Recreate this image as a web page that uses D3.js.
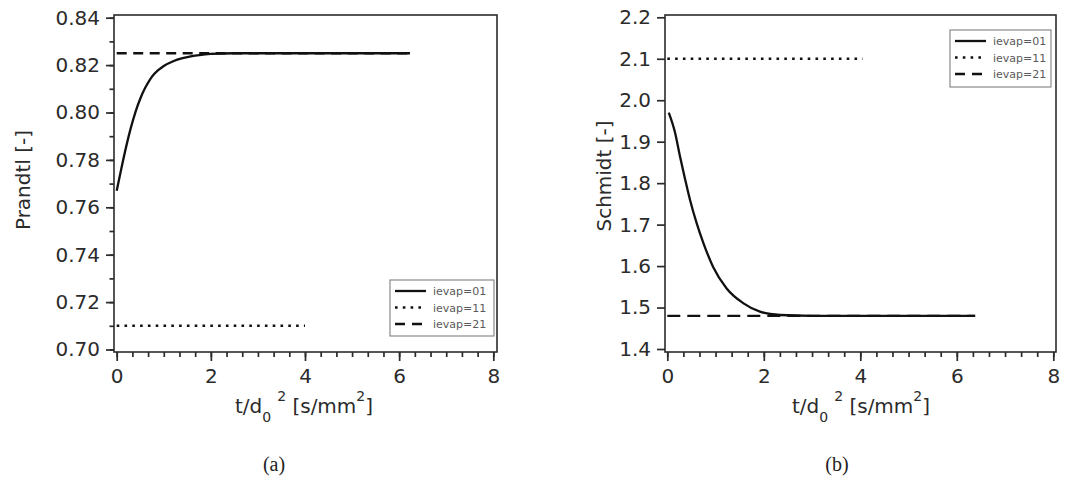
<!DOCTYPE html>
<html>
<head>
<meta charset="utf-8">
<script src="https://cdn.jsdelivr.net/npm/d3@7"></script>
<style>
  body { margin: 0; background: #fff; }
  svg { display: block; font-family: "DejaVu Sans", sans-serif; }
</style>
</head>
<body>
<svg id="chart" width="1069" height="481"></svg>
<script>
// panel (a): Prandtl number
let tPr = [0, 0.1, 0.2, 0.3, 0.4, 0.5, 0.6, 0.7, 0.8, 1.0, 1.2, 1.4, 1.6, 1.8, 2.0, 2.5, 3, 4, 5, 6.23];
let prandtl01 = [0.767, 0.7765, 0.7855, 0.7935, 0.8003, 0.8058, 0.8102, 0.8137, 0.8163, 0.8196, 0.8216, 0.8229, 0.8238, 0.8243, 0.8247, 0.825, 0.825, 0.825, 0.825, 0.825];
let tPr11 = [0, 4.0], prandtl11 = [0.71, 0.71];
let tPr21 = [0, 6.23], prandtl21 = [0.825, 0.825];

// panel (b): Schmidt number
let tSc = [0.03, 0.16, 0.26, 0.37, 0.47, 0.61, 0.75, 0.95, 1.23, 1.58, 1.92, 2.34, 3, 4, 5, 6.38];
let schmidt01 = [1.97, 1.922, 1.866, 1.809, 1.76, 1.703, 1.655, 1.598, 1.546, 1.51, 1.49, 1.482, 1.48, 1.48, 1.48, 1.48];
let tSc11 = [0, 4.05], schmidt11 = [2.1, 2.1];
let tSc21 = [0, 6.38], schmidt21 = [1.48, 1.48];

let legendLabels = ["ievap=01", "ievap=11", "ievap=21"];
let xTicks = [0, 2, 4, 6, 8];
let prTicks = [0.70, 0.72, 0.74, 0.76, 0.78, 0.80, 0.82, 0.84];
let scTicks = [1.4, 1.5, 1.6, 1.7, 1.8, 1.9, 2.0, 2.1, 2.2];

let svg = d3.select("#chart");
let ink = "#2b2b2b";

let panels = [
  {
    x0: 116.7, x1: 493.3, y0: 349.5, y1: 17.7,
    frame: { left: 114, top: 15, right: 497, bottom: 352 },
    yDomain: [0.70, 0.84], yTicks: prTicks, yMinor: d3.range(0.70, 0.8401, 0.01), yFmt: d3.format(".2f"),
    yTitle: "Prandtl [-]", yTitleX: 30, yTitleY: 180,
    series: [
      { t: tPr, v: prandtl01, kind: "solid" },
      { t: tPr11, v: prandtl11, kind: "dot" },
      { t: tPr21, v: prandtl21, kind: "dash" }
    ],
    dash: "10,6.5",
    legend: { x: 390, y: 280, w: 104, h: 56 },
    caption: "(a)", capX: 274, xTitleX: 304
  },
  {
    x0: 667.3, x1: 1053.3, y0: 349, y1: 17.3,
    frame: { left: 665, top: 15, right: 1056, bottom: 352 },
    yDomain: [1.4, 2.2], yTicks: scTicks, yMinor: [], yFmt: d3.format(".1f"),
    yTitle: "Schmidt [-]", yTitleX: 611, yTitleY: 176,
    series: [
      { t: tSc, v: schmidt01, kind: "solid" },
      { t: tSc11, v: schmidt11, kind: "dot" },
      { t: tSc21, v: schmidt21, kind: "dash" }
    ],
    dash: "13,7",
    legend: { x: 950, y: 30, w: 101, h: 57 },
    caption: "(b)", capX: 837, xTitleX: 861
  }
];

panels.forEach(drawPanel);

function styleLine(sel, kind, dash) {
  sel.attr("fill", "none").attr("stroke", "#111");
  if (kind === "solid") sel.attr("stroke-width", 2.3);
  if (kind === "dot") sel.attr("stroke-width", 2.6).attr("stroke-dasharray", "2.6,5.2");
  if (kind === "dash") sel.attr("stroke-width", 2.4).attr("stroke-dasharray", dash);
  return sel;
}

function drawPanel(p) {
  let x = d3.scaleLinear().domain([0, 8]).range([p.x0, p.x1]);
  let y = d3.scaleLinear().domain(p.yDomain).range([p.y0, p.y1]);
  let g = svg.append("g");
  let f = p.frame;

  // data lines (solid drawn last so it sits on top)
  let line = d3.line().x(d => x(d[0])).y(d => y(d[1])).curve(d3.curveMonotoneX);
  let order = ["dash", "dot", "solid"];
  order.forEach(k => {
    let s = p.series.find(s => s.kind === k);
    let pts = s.t.map((t, i) => [t, s.v[i]]);
    styleLine(g.append("path").attr("d", line(pts)), k, p.dash);
  });

  // frame
  g.append("rect")
    .attr("x", f.left).attr("y", f.top)
    .attr("width", f.right - f.left).attr("height", f.bottom - f.top)
    .attr("fill", "none").attr("stroke", ink).attr("stroke-width", 1.6);

  // y axis
  g.append("g").attr("transform", `translate(${f.left},0)`)
    .call(d3.axisLeft(y).tickValues(p.yTicks).tickFormat(p.yFmt).tickSize(8).tickSizeOuter(0).tickPadding(6));
  if (p.yMinor.length) {
    g.append("g").attr("transform", `translate(${f.left},0)`)
      .call(d3.axisLeft(y).tickValues(p.yMinor).tickFormat("").tickSize(4.5).tickSizeOuter(0));
  }

  // x axis
  g.append("g").attr("transform", `translate(0,${f.bottom})`)
    .call(d3.axisBottom(x).tickValues(xTicks).tickFormat(d3.format("d")).tickSize(9).tickSizeOuter(0).tickPadding(8));
  g.append("g").attr("transform", `translate(0,${f.bottom})`)
    .call(d3.axisBottom(x).tickValues(d3.range(0, 8.001, 1 / 3)).tickFormat("").tickSize(5).tickSizeOuter(0));

  g.selectAll(".domain").remove();
  g.selectAll(".tick line").attr("stroke", ink).attr("stroke-width", 1.7);
  g.selectAll(".tick text").attr("fill", ink).style("font-size", "20px").style("font-family", "DejaVu Sans, sans-serif");

  // y title
  g.append("text")
    .attr("transform", `translate(${p.yTitleX},${p.yTitleY}) rotate(-90)`)
    .attr("text-anchor", "middle").attr("fill", ink)
    .style("font-size", "20px")
    .text(p.yTitle);

  // x title: t/d0^2 [s/mm^2]
  let xt = g.append("text")
    .attr("x", p.xTitleX).attr("y", 413)
    .attr("text-anchor", "middle").attr("fill", ink)
    .style("font-size", "20px");
  xt.append("tspan").text("t/d");
  xt.append("tspan").attr("dy", 9).style("font-size", "14px").text("0");
  xt.append("tspan").attr("dy", -21).attr("dx", 6).style("font-size", "14px").text("2");
  xt.append("tspan").attr("dy", 12).text(" [s/mm");
  xt.append("tspan").attr("dy", -12).style("font-size", "14px").text("2");
  xt.append("tspan").attr("dy", 12).text("]");

  // legend
  let L = p.legend;
  let lg = g.append("g").attr("transform", `translate(${L.x},${L.y})`);
  lg.append("rect").attr("width", L.w).attr("height", L.h)
    .attr("fill", "#fff").attr("stroke", "#8a8a8a").attr("stroke-width", 1.2);
  legendLabels.forEach((lab, i) => {
    let ry = 11 + i * 16.5;
    let k = ["solid", "dot", "dash"][i];
    styleLine(lg.append("line").attr("x1", 5).attr("x2", 36).attr("y1", ry).attr("y2", ry), k, "10,7");
    lg.append("text").attr("x", 43).attr("y", ry + 4)
      .attr("fill", "#5a5a5a").style("font-size", "11px").text(lab);
  });

  // caption
  g.append("text")
    .attr("x", p.capX).attr("y", 471)
    .attr("text-anchor", "middle").attr("fill", "#222")
    .style("font-family", "Liberation Serif, serif").style("font-size", "20px")
    .text(p.caption);
}
</script>
</body>
</html>
